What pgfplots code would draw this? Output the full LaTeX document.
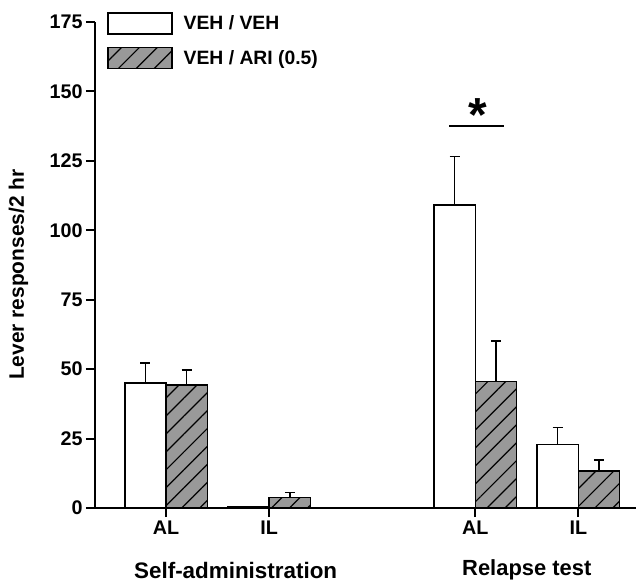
\documentclass[border=0pt]{standalone}
\usepackage{pgfplots}
\pgfplotsset{compat=1.18}
\usepackage{fontspec}
\setmainfont{Liberation Sans}
\usetikzlibrary{patterns.meta}
\definecolor{hatchgray}{RGB}{153,153,153}

% x = category position (0,1 self-administration AL/IL; 3,4 relapse AL/IL) shifted by bar offset
\pgfplotstableread{
x y e
-0.2 45.1 7.2
0.8 0.3 0
2.8 109.1 17.4
3.8 22.9 6.0
}\vehveh
\pgfplotstableread{
x y e
0.2 44.3 5.4
1.2 3.7 1.8
3.2 45.5 14.6
4.2 13.3 4.0
}\vehari

\begin{document}
\begin{tikzpicture}
\begin{axis}[
  scale only axis, width=541bp, height=486bp,
  at={(0,0)}, anchor=south west,
  xmin=-0.69, xmax=4.56, ymin=0, ymax=175,
  axis x line=bottom, axis y line=left,
  axis line style={-, line width=2.5bp},
  xtick={0,1,3,4}, xticklabels={AL,IL,AL,IL},
  ytick={0,25,50,75,100,125,150,175},
  yticklabels={0,25,50,75,100,125,150,175},
  tick align=outside, major tick length=9bp,
  every tick/.style={black, line width=2bp},
  ticklabel style={font=\fontsize{19.8}{20}\selectfont\bfseries},
  ylabel={Lever responses/2 hr},
  ylabel style={font=\fontsize{21}{22}\selectfont\bfseries, at={([xshift=-76.5bp]axis description cs:0,0.48)}, anchor=center},
  clip=false,
  legend style={at={([xshift=12bp,yshift=10bp]axis description cs:0,1)}, anchor=north west, draw=none, fill=none, inner sep=0pt, row sep=12bp, font=\fontsize{19.4}{20}\selectfont\bfseries, legend cell align=left, nodes={inner sep=0pt}, /tikz/every odd column/.append style={column sep=11bp}},
  boxlegend/.style={legend image code/.code={\draw[##1, line width=1.5bp] (0bp,-10.5bp) rectangle (64bp,10.5bp);}},
]
\addplot[ybar, bar width=0.4, bar shift=0, fill=white, draw=black, line width=1.5bp, boxlegend,
  error bars/.cd, y dir=plus, y explicit, error bar style={line width=1.5bp, black}, error mark options={rotate=90, line width=1.5bp, mark size=5bp, black}]
  table[x=x, y=y, y error=e] {\vehveh};
\addlegendentry{VEH / VEH}
\addplot[ybar, bar width=0.4, bar shift=0, fill=hatchgray, draw=black, line width=1.5bp,
  postaction={pattern={Lines[angle=45,distance=12.7bp,line width=1.2bp]}, pattern color=black}, boxlegend,
  error bars/.cd, y dir=plus, y explicit, error bar style={line width=1.5bp, black}, error mark options={rotate=90, line width=1.5bp, mark size=5bp, black}]
  table[x=x, y=y, y error=e] {\vehari};
\addlegendentry{VEH / ARI (0.5)}
\draw[line width=2bp] (axis cs:2.75,137.5) -- (axis cs:3.28,137.5);
\node[font=\fontsize{48}{48}\selectfont\bfseries, anchor=base] at (axis cs:3.02,135.4) {*};
\node[font=\fontsize{22.5}{23}\selectfont\bfseries] at ([yshift=-62bp]axis cs:0.675,0) {Self-administration};
\node[font=\fontsize{22}{23}\selectfont\bfseries] at ([yshift=-62bp]axis cs:3.5,0) {Relapse test};
\end{axis}
\pgfresetboundingbox
\path[use as bounding box] (-95bp,-74bp) rectangle (541bp,508bp);
\end{tikzpicture}
\end{document}
